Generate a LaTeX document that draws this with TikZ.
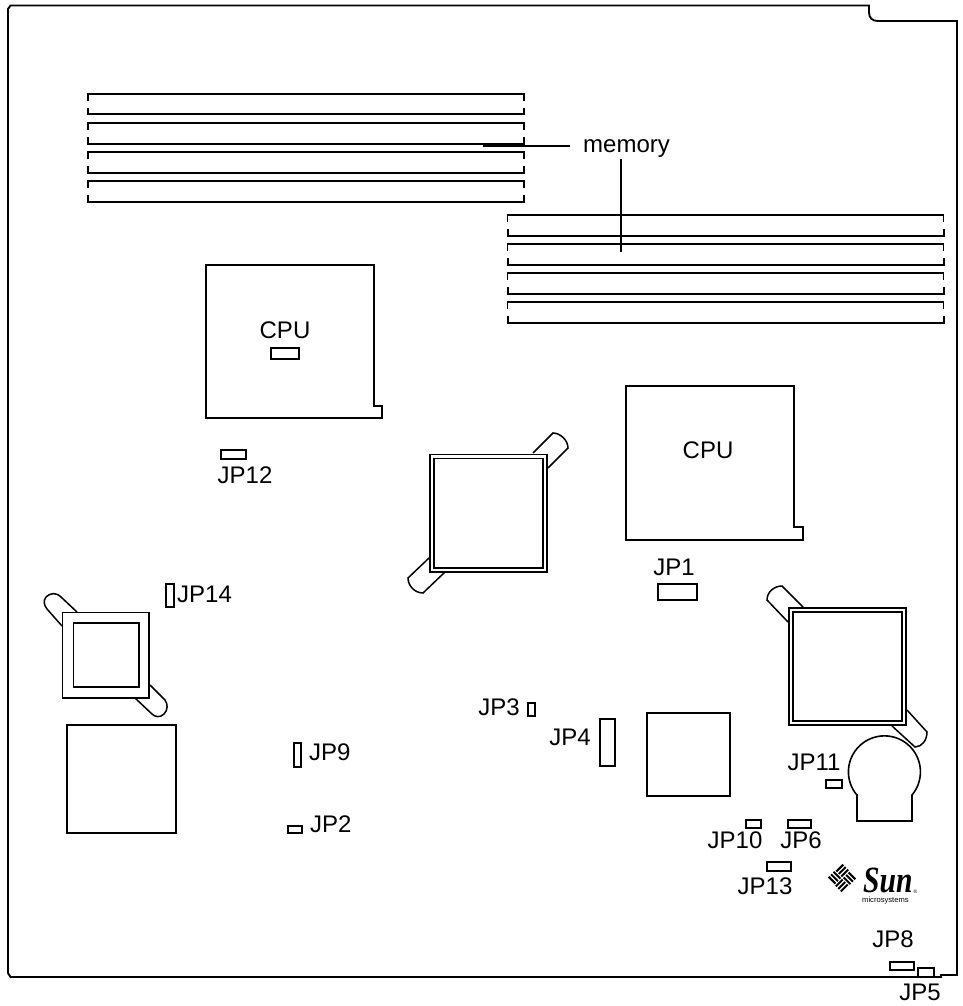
\documentclass[tikz,border=0pt]{standalone}
\usepackage{fontspec}
\setmainfont{Liberation Sans}
\newfontfamily\logofont{Liberation Serif}
\tikzset{
  x=1pt,y=-1pt,
  board/.style={line width=1.9pt,line join=miter},
  part/.style={draw,line width=1.6pt,line join=miter,fill=white},
  dbl/.style={draw,line width=1.8pt,fill=white},
  lead/.style={line width=1.2pt},
  lbl/.style={font=\fontsize{24}{24}\selectfont,inner sep=0pt},
  jp/.style={draw,line width=1.4pt,fill=white},
  dimm/.pic={
    \draw[line width=1.6pt] (0,7) -- (0,0) -- (436,0) -- (436,7);
    \draw[line width=2pt] (0,14) -- (0,20.5) -- (436,20.5) -- (436,14);
  },
  tab/.style={draw,line width=1.5pt,fill=white}
}
\begin{document}
\begin{tikzpicture}
\useasboundingbox (0,0) rectangle (963,1006);
\fill[white] (0,0) rectangle (963,1006);
% board outline
\draw[board] (10.5,5.5) -- (869,5.5) -- (869,12) .. controls (869,18) and (872,21) .. (878,21) -- (957,21) -- (957,975) -- (941,975) -- (941,977) -- (10.5,977) -- (8,973) -- (8,9) -- cycle;
% memory
\foreach \yy in {94,123,152,181} \pic at (88,\yy) {dimm};
\foreach \yy in {215,244,273,302} \pic at (507.5,\yy) {dimm};
\node[lbl,anchor=base west] (mem) at (583,153) {memory};
\coordinate (m1) at (483,146);
\coordinate (m1e) at (570,146);
\coordinate (m2) at (621,252);
\coordinate (m2e) at (621,159);
\draw[lead] (m1) -- (m1e);
\draw[lead] (m2e) -- (m2);
% CPU 1
\draw[part] (206,265) -- (374,265) -- (374,406) -- (382,406) -- (382,418) -- (206,418) -- cycle;
\node[lbl,anchor=base] (cpu1) at (285,338) {CPU};
\draw[jp] (271,348) rectangle (299,359);
% CPU 2
\draw[part] (626,386) -- (794,386) -- (794,527) -- (803,527) -- (803,540) -- (626,540) -- cycle;
\node[lbl,anchor=base] (cpu2) at (708,458) {CPU};
% Center heatsink
\draw[tab] (533,453) -- (553,433) .. controls (560,433) and (568,440) .. (568,448) -- (548,468);
\draw[tab] (429,558) -- (408,578) .. controls (408,586) and (415,593) .. (423,593) -- (445,572);
\draw[dbl] (430,454.5) rectangle (547,572);
\draw[dbl] (434,458.5) rectangle (543,568);
% Right heatsink
\draw[tab] (803,607) -- (782,586) .. controls (774,586) and (767,592) .. (767,600) -- (788,622);
\draw[tab] (907,710) -- (927,732) .. controls (927,740) and (922,747) .. (915,747) -- (892,726);
\draw[dbl] (789,608) rectangle (906,725);
\draw[dbl] (793,612) rectangle (902,721);
% Left heatsink
\draw[tab] (77,612) -- (61,597) .. controls (56,592) and (50,593) .. (46,597) .. controls (43,601) and (44,605) .. (47,609) -- (62,626);
\draw[tab] (150,685) -- (165,700) .. controls (168,704) and (168,710) .. (164,714) .. controls (160,718) and (155,717) .. (152,714) -- (135,698);
\draw[part] (62.5,612.5) rectangle (149,698);
\draw[part] (73.5,623) rectangle (139,687);
% chips
\draw[part] (67,725) rectangle (176,833);
\draw[part] (647,713) rectangle (730,796);
% battery
\draw[part] (857,795) -- (857,821) -- (912,821) -- (912,795) arc[start angle=40,end angle=-220,radius=36] -- cycle;
% jumpers
\draw[jp] (221,450) rectangle (246,459);
\draw[jp] (658,584) rectangle (697,600);
\draw[jp] (166,584) rectangle (174,607);
\draw[jp] (528,703) rectangle (535,716);
\draw[jp] (600,719) rectangle (615,766);
\draw[jp] (294,743) rectangle (301,767);
\draw[jp] (288,826) rectangle (302,833);
\draw[jp] (826,780) rectangle (842,788);
\draw[jp] (746,820) rectangle (761,828);
\draw[jp] (788,820) rectangle (811,828);
\draw[jp] (767,862) rectangle (791,871);
\draw[jp] (890,962) rectangle (914,970);
\draw[jp] (918,968) rectangle (934,976.5);
% labels
\node[lbl,anchor=base] at (245,483) {JP12};
\node[lbl,anchor=base west] at (177,602) {JP14};
\node[lbl,anchor=base] at (674,575) {JP1};
\node[lbl,anchor=base east] at (520,715) {JP3};
\node[lbl,anchor=base east] at (591,745) {JP4};
\node[lbl,anchor=base west] at (309,760) {JP9};
\node[lbl,anchor=base west] at (310,832) {JP2};
\node[lbl,anchor=base] at (814,770) {JP11};
\node[lbl,anchor=base] at (735,848) {JP10};
\node[lbl,anchor=base] at (801,848) {JP6};
\node[lbl,anchor=base] at (765,894) {JP13};
\node[lbl,anchor=base] at (893,947) {JP8};
\node[lbl,anchor=base] at (920,1000) {JP5};
% logo
\node[inner sep=0pt,anchor=base west,xscale=0.8,font=\fontsize{37}{37}\selectfont\logofont\bfseries\itshape] (sun) at (863,892) {Sun};
\node[inner sep=0pt,anchor=base west,font=\fontsize{7.6}{7.6}\selectfont] (ms) at (862,902) {microsystems};
\node[inner sep=0pt,anchor=base west,font=\fontsize{5}{5}\selectfont] (reg) at (913.5,893) {®};
\begin{scope}[shift={(842,878)},rotate=45]
  \foreach \a in {0,90,180,270}{
    \begin{scope}[rotate=\a]
      \foreach \o in {1.6,5.1,8.6}
        \draw[line width=2pt] (\o,0.7) -- (\o,10.4);
    \end{scope}
  }
\end{scope}
\end{tikzpicture}
\end{document}
